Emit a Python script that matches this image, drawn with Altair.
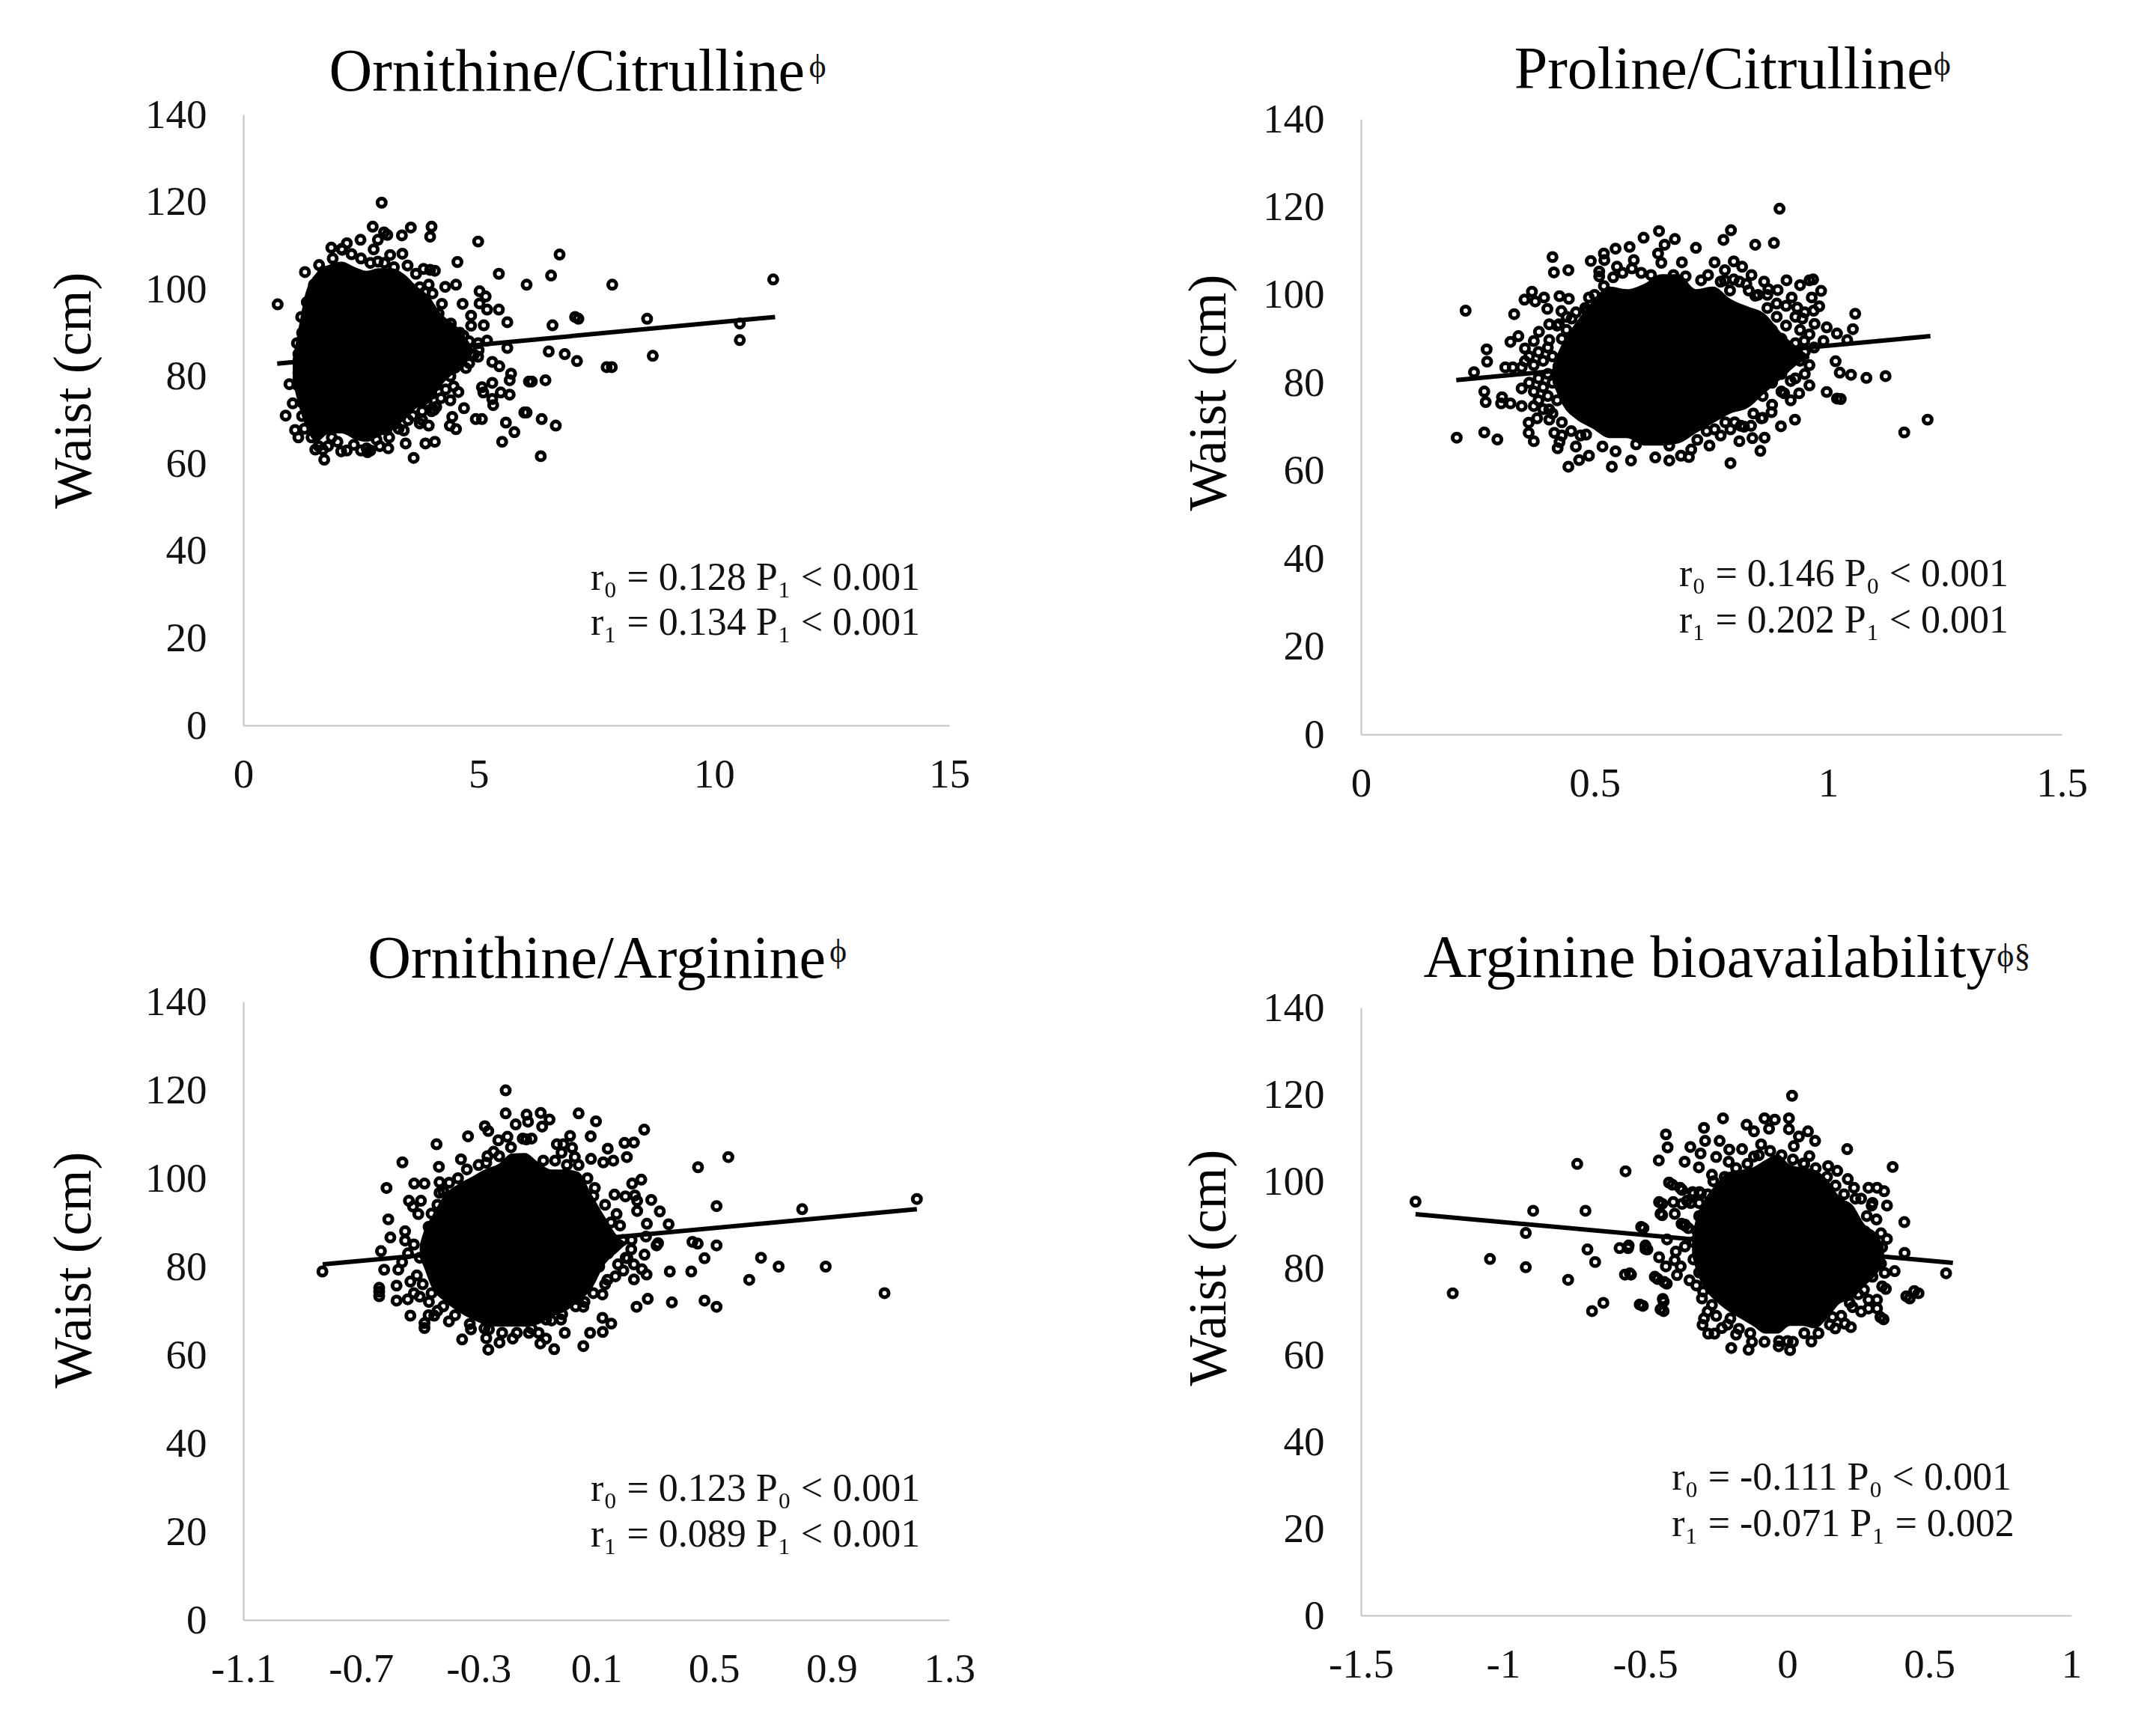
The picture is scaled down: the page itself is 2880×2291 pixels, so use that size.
import altair as alt
import pandas as pd

FONT = "Liberation Serif"

# ---------- Panel 1: Ornithine/Citrulline ----------
p1_x = [2.94,2.75,2.99,3.06,3.37,3.56,4.00,3.97,4.99,6.72,4.55,5.43,6.54,6.02,7.84,1.87,2.20,2.49,2.86,2.77,3.12,3.38,2.86,1.31,1.61,2.09,3.49,3.67,3.83,3.97,4.07,4.29,4.52,3.75,3.94,3.86,4.02,4.22,4.66,5.02,5.15,5.02,5.18,5.43,5.61,7.05,6.57,5.11,4.15,4.41,4.68,4.84,4.84,0.73,1.23,1.14,1.17,4.99,5.18,5.61,6.49,6.83,7.09,7.72,7.83,4.99,5.29,5.44,4.73,5.69,5.66,6.07,6.13,6.42,5.29,5.07,5.10,5.47,5.66,5.29,5.31,4.47,4.57,4.40,4.69,4.44,4.39,4.52,4.94,5.07,5.97,6.02,6.34,6.64,5.58,5.76,5.50,6.32,4.07,3.87,3.45,3.62,3.08,3.41,3.94,3.75,4.05,2.62,2.64,2.08,1.72,1.53,1.69,1.88,1.17,1.10,0.90,1.25,1.05,0.98,1.17,2.35,2.83,3.04,7.12,8.58,8.70,10.55,10.55,11.26,
        4.3,4.4,4.6,4.8,4.5,4.7,4.9,4.4,4.6,4.8,5.0,4.3,4.5,4.2,4.4,4.1,4.3,4.0,4.2,3.9,4.1,3.8,4.0,3.6,3.8,3.5,3.3,3.2,3.9,3.7,3.5,3.3,3.6,3.2,3.0,2.7,2.5,2.3,2.1,1.9,1.7,1.5,1.35,1.25,1.2,1.15,1.25,1.3,1.45,1.6,1.8,2.0,2.2,2.5,2.7,2.9,3.1]
p1_y = [119.8,114.3,113.0,112.4,112.3,114.1,114.3,112.0,110.9,107.9,106.2,103.5,103.1,101.0,101.0,109.5,110.5,111.3,111.3,109.1,107.8,108.1,106.3,103.9,105.5,109.2,105.4,103.5,104.6,104.4,104.2,100.5,101.0,100.4,101.0,99.3,99.0,96.6,96.6,99.5,98.3,96.7,95.3,95.3,92.4,93.6,91.7,91.7,94.4,92.1,89.3,91.6,93.9,96.5,93.6,87.6,85.1,87.6,88.2,86.5,85.7,85.1,83.5,82.1,82.1,84.5,83.3,82.3,81.9,80.6,79.1,78.8,78.8,79.1,78.5,77.5,76.3,76.3,75.8,74.8,73.4,77.7,76.4,74.5,72.7,70.7,68.7,67.9,70.2,70.2,71.7,71.7,70.2,68.7,69.4,67.2,65.0,61.7,65.0,64.6,64.6,61.3,63.5,67.6,68.7,69.2,72.3,63.5,62.6,62.8,60.9,63.2,63.2,66.0,66.0,67.7,71.0,70.9,73.8,78.2,80.8,64.3,65.5,67.7,93.2,93.2,84.7,92.1,88.3,102.2,
        91,89,90,88,87,86,85,86,84,83,86,83,82,80,80,78,77,76,75,74,73,72,72,71,70,70,68,69,95,97,100,102,99,105,106,106,107,108,109,107,104,101,97,90,83,78,74,68,66,64,64,65,63,63,63,64,66]
p1_core_x = [1.05,1.14,1.30,1.56,1.83,2.09,2.36,2.62,2.88,3.15,3.41,3.68,3.94,4.20,4.52,4.73,4.9]
p1_core_top = [84,89.0,98.1,103.8,105.6,106.3,105.1,104.2,104.8,104.8,103.5,100.7,98.4,94.4,91.6,88.9,86]
p1_core_bot = [79,74.8,69.2,65.0,66.9,66.9,65.6,65.0,66.2,67.5,69.9,72.7,73.8,77.8,81.2,83.5,85.5]
p1_fit_x = [0.72,11.3]
p1_fit_y = [82.9,93.6]

# ---------- Panel 2: Proline/Citrulline ----------
p2_x = [.896,.638,.792,.776,.605,.672,.650,.717,.844,.884,.575,.545,.520,.636,.410,.492,.521,.548,.584,.643,.687,.757,.798,.816,.779,.413,.444,.510,.510,.621,.669,.695,.743,.728,.779,.798,.836,.825,.863,.911,.940,.960,.968,.872,.892,.985,.965,.922,.844,.981,.969,.934,1.058,1.053,.945,.971,.997,1.019,1.041,.990,.949,1.016,1.025,1.049,1.082,1.123,.960,.997,1.019,1.027,.938,.906,.920,.879,.857,.929,.899,.864,.855,.810,.838,.835,.813,.791,.757,.746,.791,.707,.702,.685,.660,.660,.630,.589,.578,.545,.537,.517,.488,.467,.444,.460,.421,.425,.370,.359,.414,.482,.403,.403,.359,.377,.205,.264,.292,.267,.264,.300,.302,.320,.344,.344,.370,.242,.270,.269,.309,.325,.344,.351,.320,.337,.370,.381,.403,.351,.224,.328,.350,.366,.373,.392,.425,.399,.445,.488,.403,.424,.451,.429,.484,1.213,1.163,
        .87,.89,.91,.93,.95,.89,.91,.94,.96,.88,.90,.93,.95,.97,.89,.91,.94,.96,.88,.90,.93,.95,.88,.90,.92,.86,.88,.84,.86,.82,.80,.78,.77,.74,.72,.85,.87,.83,.81,.79,.77,.75,
        .36,.38,.40,.37,.39,.41,.36,.38,.40,.37,.39,.41,.38,.40,.42,.39,.41,.43,.45,.43,.47,.42,.44,.46,.48,.50,.52,.54,.56,.58,.60,.43,.44]
p2_y = [119.6,114.5,114.7,112.5,113.0,112.7,111.4,110.7,111.4,111.8,110.9,110.5,109.4,109.4,108.6,107.7,107.9,106.4,107.9,107.3,107.4,107.4,107.6,106.4,105.6,105.1,105.6,105.3,104.2,104.5,104.5,104.2,104.5,103.3,103.3,103.5,104.5,102.5,103.0,103.3,102.2,103.3,103.5,101.3,101.1,100.9,99.4,99.4,99.8,97.4,96.4,97.1,95.7,92.2,94.6,93.4,92.6,91.2,89.7,89.5,89.5,84.9,82.3,81.8,81.1,81.5,79.4,77.9,76.4,76.3,77.6,77.6,80.4,73.3,71.9,71.6,70.1,67.5,64.5,66.7,67.4,70.2,70.2,69.4,69.4,65.7,61.7,64.8,63.1,63.4,62.3,65.7,63.0,66.0,62.3,64.4,60.9,65.5,63.4,62.4,60.9,65.5,65.1,66.5,66.7,68.6,68.6,68.2,71.6,73.9,70.9,71.9,67.5,68.7,67.1,75.6,78.0,75.3,76.7,75.3,74.7,78.7,74.7,82.4,84.8,87.6,83.5,83.5,83.5,84.9,89.3,90.6,89.5,91.6,89.7,87.8,96.4,95.6,98.9,100.7,98.5,99.4,99.7,96.8,99.1,99.4,93.3,93.3,94.6,96.3,96.3,71.6,68.7,
        97,98,97.5,95,96,95,93,92,91,92,90,89,87,88,88,86,85,84,84,82,81,82,80,78,76,77,75,73,72,70,71,71,68,69,67,100,100,101,103,101,103,100,
        86,87,88,84,85,86,80,81,82,78,79,80,76,77,76,74,73,71,69,68,68,93,92,96,97,100,102,104,105,106,105,90,95]
p2_core_x = [.41,.436,.458,.495,.532,.569,.606,.643,.680,.717,.754,.791,.827,.864,.901,.938,.96]
p2_core_top = [84,90.0,93.4,98.5,101.9,101.3,102.5,104.7,104.7,101.3,101.9,99.1,97.4,95.7,91.2,87.8,86]
p2_core_bot = [80,74.2,71.9,69.6,67.4,67.4,65.7,65.7,66.2,68.5,70.8,73.0,74.2,77.6,81.0,84.4,85.5]
p2_fit_x = [0.204,1.219]
p2_fit_y = [80.6,90.6]

# ---------- Panel 3: Ornithine/Arginine ----------
p3_x = [-.208,-.208,-.137,-.089,-.059,-.084,-.132,-.174,.040,.099,.263,-.279,-.267,-.336,.081,.011,-.443,-.233,-.202,-.138,-.034,-.012,.018,.196,.228,.139,-.018,-.249,.027,.082,.124,.158,.204,-.559,-.435,-.360,-.274,.446,.549,.253,.222,-.519,-.484,-.433,-.613,-.433,.095,.162,.199,.231,.287,.239,.239,.316,.509,.169,.272,.346,.181,-.537,-.496,-.523,-.607,-.505,-.600,-.550,-.632,-.621,-.573,-.532,-.579,-.638,-.638,-.638,-.579,-.541,-.500,-.469,-.532,-.451,-.484,-.484,-.401,-.831,-.356,-.326,-.265,-.274,-.229,-.267,-.184,-.129,-.096,-.071,-.090,-.043,-.007,.056,.079,.122,.151,.121,.121,.237,.275,.357,.468,.509,.350,.423,.468,.509,.427,.445,.310,.305,.269,.264,.219,.206,.174,.228,.192,.228,.271,.255,.165,.138,.038,.056,-.016,-.052,.62,.72,.88,1.08,.80,.66,1.19,
        -.55,-.52,-.50,-.54,-.56,-.51,-.48,-.47,-.46,-.44,-.42,-.40,-.37,-.34,-.30,-.27,-.23,-.19,-.15,-.12,-.08,-.04,.00,.04,.07,.09,.13,.15,.19,.16,.22,.20,.14,.11,.13,.09,.06,.03,-.02,-.07,-.12,-.17,-.22,-.28,-.33,-.38,-.42,-.46,-.49,-.52,-.47,-.44]
p3_y = [119.9,114.7,114.4,114.8,113.3,111.7,112.8,112.2,114.7,112.9,111.0,111.8,110.7,109.5,109.5,109.6,107.7,108.6,109.4,108.8,107.7,107.7,106.9,108.0,108.1,106.7,105.8,106.0,104.8,104.4,103.6,104.0,104.8,103.6,102.6,104.3,103.5,102.5,104.8,99.7,98.8,98.8,98.8,99.1,97.8,96.7,97.8,96.3,95.9,96.1,95.1,94.9,92.6,92.5,93.7,91.9,89.7,89.6,89.3,94.9,94.9,93.6,90.7,91.9,86.6,85.9,83.5,79.3,79.3,76.6,75.7,75.2,74.3,73.3,72.3,72.6,73.2,72.0,68.9,68.9,67.2,66.1,67.6,78.9,63.5,65.8,65.8,63.8,62.8,61.2,63.7,65.0,65.0,63.7,62.6,61.3,65.0,62.0,65.0,65.2,67.1,68.4,73.7,70.9,72.7,71.9,72.3,70.9,78.9,78.9,81.9,84.8,85.6,85.2,85.3,84.8,86.8,82.7,83.9,81.9,80.5,80.5,79.1,77.1,78.2,79.4,77.8,77.0,72.6,70.9,69.2,67.8,77.0,80.0,80.0,74.0,93.0,82.0,95.3,
        88,85,82,83,81,78,84,89,92,94,97,99,100,102,103,105,105,107,109,109,104,104,103,103,100,96,94,90,86,85,86,82,83,80,76,74,72,71,68,68,66,65,65,66,67,69,71,74,76,74,69,70]
p3_core_x = [-.50,-.487,-.460,-.414,-.369,-.324,-.279,-.233,-.188,-.143,-.098,-.052,-.007,.038,.084,.129,.174,.20]
p3_core_top = [85,87.9,91.3,96.4,98.7,100.3,102.0,103.2,105.6,105.7,103.7,102.0,102.0,101.5,96.4,91.3,86.8,85.5]
p3_core_bot = [82,80.0,75.4,72.0,69.8,68.1,66.9,66.4,66.4,66.4,66.9,68.6,69.8,72.0,74.9,80.5,83.4,85]
p3_fit_x = [-.83,1.19]
p3_fit_y = [80.5,93.0]

# ---------- Panel 4: Arginine bioavailability ----------
p4_x = [.017,-.226,-.080,-.044,.006,-.143,-.117,-.293,-.427,-.421,-.452,-.361,-.341,-.305,-.289,-.238,-.204,-.159,-.206,-.250,-.311,-.265,-.117,-.092,-.064,.006,.073,.041,.098,.023,.211,.078,.057,.144,.176,.213,.235,.286,.316,.341,.371,.351,.297,.314,.412,.274,.351,.334,.413,.378,.343,.334,.447,.419,.559,.316,.286,.286,.316,.328,.224,.203,.169,.159,.085,.010,.001,-.029,-.136,-.124,-.197,-.180,-.230,-.256,-.278,-.298,-.293,-.200,-.265,-.296,-.344,-.433,-.466,-.438,-.446,-.519,-.554,-.451,-.427,-.396,-.375,-.388,-.392,-.423,-.499,-.499,-.558,-.514,-.372,-.348,-.318,-.446,-.451,-.396,-.401,-.353,-.416,-.377,-.333,-.309,-1.308,-1.046,-1.177,-.920,-.920,-.894,-.739,-.710,-.703,-.676,-.771,-.687,-.647,-.569,-.590,-.560,-.571,-.550,-.508,-.506,-.492,-.456,-.435,-.435,-.424,-.440,-.440,-.404,-.370,-.370,-.304,-.330,-.360,.347,.462,.431,.339,
        -.34,-.31,-.36,-.33,-.36,-.33,-.31,-.32,-.30,-.28,-.25,-.21,-.17,-.13,-.08,-.03,.02,.06,.11,.15,.19,.23,.26,.27,.30,.33,.32,.30,.33,.28,.30,.26,.24,.20,.17,.14,.10,.06,.02,-.02,-.06,-.10,-.14,-.18,-.22,-.26,-.28,-.31,.25,.22]
p4_y = [119.7,114.5,114.5,114.2,114.5,113.0,111.5,112.3,110.8,107.8,104.8,104.5,107.9,106.4,109.3,109.3,107.3,107.4,104.5,105.6,103.2,101.5,105.7,108.5,112.1,112.0,111.5,110.3,109.3,108.1,107.4,105.8,104.1,103.5,102.4,100.5,98.5,98.5,98.5,97.7,103.3,94.4,94.4,91.2,90.6,88.4,86.7,84.8,83.5,79.3,78.9,75.8,74.7,73.5,78.8,72.7,72.7,70.7,70.7,68.7,66.4,67.2,66.1,68.7,63.1,61.1,63.2,63.2,61.2,63.0,61.6,64.7,66.2,64.9,64.9,66.9,68.4,68.4,71.5,74.6,77.2,76.8,78.0,72.9,70.5,71.6,78.8,82.5,80.4,81.8,80.4,78.4,83.8,86.6,85.2,84.4,85.2,89.5,90.2,89.2,88.6,92.5,95.2,92.5,95.2,95.5,99.7,98.5,97.5,97.5,95.3,82.1,74.2,88.1,80.2,93.2,104.0,93.2,84.3,81.4,77.3,70.1,72.0,102.3,84.6,84.6,78.5,78.5,71.3,89.2,84.3,77.5,72.3,70.1,76.4,94.8,92.2,99.2,98.0,94.8,97.2,97.2,89.8,75.2,74.2,73.0,68.2,
        95,92,90,86,85,82,79,76,73,70,69,67,66,65,63,62,63,65,65,67,69,71,70,75,78,81,83,87,88,92,95,96,96,97,99,101,103,104,105,106,107,106,104,103,101,100,97,95,74,72]
p4_core_x = [-.335,-.322,-.296,-.252,-.208,-.165,-.121,-.077,-.034,.010,.054,.098,.141,.185,.229,.272,.316,.34]
p4_core_top = [87,91.2,95.2,99.2,102.1,102.6,103.2,104.9,106.2,103.8,103.2,102.6,100.4,96.4,94.6,90.1,87.8,85]
p4_core_bot = [83,79.8,75.8,72.4,70.1,68.4,66.7,64.9,64.9,66.7,66.7,66.1,68.4,71.8,72.9,75.8,78.7,81]
p4_fit_x = [-1.308,.583]
p4_fit_y = [92.4,81.2]

y_ticks = [0,20,40,60,80,100,120,140]

PANELS = [
    dict(title="Ornithine/Citrulline", tit_x=1.82, tit_y=145.5, sup="ϕ", sup_x=12.20, sup_y=148.6,
         xs=p1_x, ys=p1_y, cx=p1_core_x, ct=p1_core_top, cb=p1_core_bot, fx=p1_fit_x, fy=p1_fit_y,
         dom=[0,15], ticks=[0,5,10,15], w=943, h=816, ty=368, tx=-227,
         note=["r₀ = 0.128 P₁ < 0.001","r₁ = 0.134 P₁ < 0.001"], nx=7.38, ny=[31.1,20.7]),
    dict(title="Proline/Citrulline", tit_x=.328, tit_y=147.0, sup="ϕ", sup_x=1.244, sup_y=150.0,
         xs=p2_x, ys=p2_y, cx=p2_core_x, ct=p2_core_top, cb=p2_core_bot, fx=p2_fit_x, fy=p2_fit_y,
         dom=[0,1.5], ticks=[0,0.5,1,1.5], w=936, h=822, ty=365, tx=-204,
         note=["r₀ = 0.146 P₀ < 0.001","r₁ = 0.202 P₁ < 0.001"], nx=.681, ny=[33.8,23.1]),
    dict(title="Ornithine/Arginine", tit_x=-.677, tit_y=145.4, sup="ϕ", sup_x=.922, sup_y=148.9,
         xs=p3_x, ys=p3_y, cx=p3_core_x, ct=p3_core_top, cb=p3_core_bot, fx=p3_fit_x, fy=p3_fit_y,
         dom=[-1.1,1.3], ticks=[-1.1,-0.7,-0.3,0.1,0.5,0.9,1.3], w=943, h=826, ty=358, tx=-227,
         note=["r₀ = 0.123 P₀ < 0.001","r₁ = 0.089 P₁ < 0.001"], nx=.081, ny=[26.9,16.6]),
    dict(title="Arginine  bioavailability", tit_x=-1.28, tit_y=147.0, sup="ϕ§", sup_x=.797, sup_y=149.4,
         xs=p4_x, ys=p4_y, cx=p4_core_x, ct=p4_core_top, cb=p4_core_bot, fx=p4_fit_x, fy=p4_fit_y,
         dom=[-1.5,1], ticks=[-1.5,-1,-0.5,0,0.5,1], w=949, h=812, ty=347, tx=-204,
         note=["r₀ = -0.111 P₀ < 0.001","r₁ = -0.071 P₁ = 0.002"], nx=-.406, ny=[28.9,18.3]),
]

def panel(p):
    xs = alt.Scale(domain=p["dom"], nice=False, zero=False)
    ys = alt.Scale(domain=[0,140], nice=False)
    xax = alt.Axis(values=p["ticks"], title=None, grid=False, ticks=False, labelExpr="datum.value + ''",
                   domainColor="#c4c4c4", domainWidth=2, labelFont=FONT, labelFontSize=55, labelColor="#111111",
                   labelPadding=39, labelOverlap=False, labelFlush=False)
    yax = alt.Axis(values=y_ticks, title="Waist (cm)", grid=False, ticks=False,
                   domainColor="#c4c4c4", domainWidth=2, labelFont=FONT, labelFontSize=55, labelColor="#111111",
                   labelPadding=49, labelOverlap=False, labelFlush=False,
                   titleFont=FONT, titleFontSize=72, titleFontWeight="normal", titleColor="#000000",
                   titleX=p["tx"], titleY=p["ty"], titleBaseline="middle", titleAlign="center")
    X = lambda n: alt.X(n, type="quantitative", scale=xs, axis=xax)
    Y = lambda n: alt.Y(n, type="quantitative", scale=ys, axis=yax)
    core = pd.DataFrame({"x":p["cx"],"t":p["ct"],"b":p["cb"]})
    pts = pd.DataFrame({"x":p["xs"],"y":p["ys"]})
    fit = pd.DataFrame({"x":p["fx"],"y":p["fy"]})
    note = pd.DataFrame({"x":[p["nx"]]*2,"y":p["ny"],"t":p["note"]})
    sup = pd.DataFrame({"x":[p["sup_x"]],"y":[p["sup_y"]],"t":[p["sup"]]})
    tit = pd.DataFrame({"x":[p["tit_x"]],"y":[p["tit_y"]],"t":[p["title"]]})
    l_core = alt.Chart(core).mark_area(color="#000000", interpolate="monotone").encode(x=X("x"), y=Y("t"), y2="b")
    l_pts = alt.Chart(pts).mark_point(shape="circle", filled=False, size=120, strokeWidth=5, color="#000000", opacity=1).encode(x=X("x"), y=Y("y"))
    l_fit = alt.Chart(fit).mark_line(color="#000000", strokeWidth=6).encode(x=X("x"), y=Y("y"))
    l_note = alt.Chart(note).mark_text(font=FONT, fontSize=52, align="left", baseline="alphabetic", color="#111111").encode(x=X("x"), y=Y("y"), text="t:N")
    l_sup = alt.Chart(sup).mark_text(font=FONT, fontSize=44, align="center", baseline="alphabetic", color="#111111").encode(x=X("x"), y=Y("y"), text="t:N")
    l_tit = alt.Chart(tit).mark_text(font=FONT, fontSize=80, align="left", baseline="alphabetic", color="#000000").encode(x=X("x"), y=Y("y"), text="t:N")
    return alt.layer(l_core, l_pts, l_fit, l_note, l_sup, l_tit).properties(width=p["w"], height=p["h"])

spacer = alt.Chart(pd.DataFrame({"x":[0]})).mark_text(text="").encode(x=alt.value(0)).properties(width=10, height=1)

c1 = alt.vconcat(panel(PANELS[0]), panel(PANELS[2]), spacing=180)
c2top = alt.vconcat(spacer, panel(PANELS[1]), spacing=-108)
c2 = alt.vconcat(c2top, panel(PANELS[3]), spacing=167)
chart = alt.hconcat(c1, c2, spacing=275).properties(
    background="white", padding={"left":54,"top":45,"right":0,"bottom":0}
).configure_view(stroke=None)

chart.save("out.html", embed_options={"renderer": "svg", "actions": False})
